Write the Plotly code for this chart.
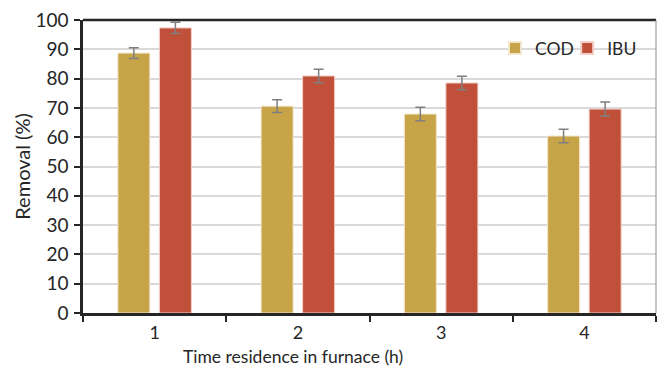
import plotly.graph_objects as go

categories = ["1", "2", "3", "4"]
cod = [88.7, 70.6, 67.9, 60.4]
ibu = [97.3, 80.9, 78.5, 69.6]
cod_err = [1.8, 2.2, 2.3, 2.3]
ibu_err = [1.9, 2.3, 2.3, 2.4]
x_title = "Time residence in furnace (h)"
y_title = "Removal (%)"

COD_COLOR = "#C8A449"
IBU_COLOR = "#C0503A"
ERR_COLOR = "#7F7F7F"
FONT = "Lato"

fig = go.Figure()
fig.add_trace(go.Bar(
    x=categories, y=cod, name="COD", legend="legend",
    marker=dict(color=COD_COLOR, line=dict(color="#F2E6CC", width=1)),
    error_y=dict(type="data", array=cod_err, color=ERR_COLOR, thickness=1.5, width=5),
))
fig.add_trace(go.Bar(
    x=categories, y=ibu, name="IBU", legend="legend2",
    marker=dict(color=IBU_COLOR, line=dict(color="#F2CFC8", width=1)),
    error_y=dict(type="data", array=ibu_err, color=ERR_COLOR, thickness=1.5, width=5),
))

legend_common = dict(orientation="h", y=0.904, xanchor="left", yanchor="middle",
                     font=dict(size=17.5), itemwidth=30,
                     bgcolor="rgba(0,0,0,0)", itemsizing="constant")

fig.update_layout(
    width=658, height=367,
    margin=dict(l=83, r=2, t=20, b=54),
    paper_bgcolor="white", plot_bgcolor="white",
    barmode="group", bargap=0.42, bargroupgap=0.23,
    font=dict(family=FONT, size=19, color="#262626"),
    showlegend=True,
    legend=dict(x=0.719, **legend_common),
    legend2=dict(x=0.845, **legend_common),
    xaxis=dict(
        type="category", tickson="boundaries", ticks="outside", ticklen=6,
        tickwidth=2, tickcolor="#262626",
        showline=True, linecolor="#262626", linewidth=2.5,
        showgrid=False, zeroline=False,
        tickfont=dict(size=18), ticklabelstandoff=2,
    ),
    yaxis=dict(
        range=[0, 100], dtick=10, ticks="outside", ticklen=6, tickwidth=2,
        tickcolor="#262626",
        showline=True, linecolor="#262626", linewidth=2.5,
        showgrid=True, gridcolor="#D9D9D9", gridwidth=1.5,
        zeroline=False, tickfont=dict(size=19), ticklabelstandoff=2,
        title=dict(text=y_title, font=dict(size=20), standoff=0),
    ),
    annotations=[
        dict(text=x_title, xref="paper", yref="paper", x=0.367, y=-0.149,
             xanchor="center", yanchor="middle", showarrow=False,
             font=dict(size=17.5), borderpad=0),
    ],
    shapes=[
        dict(type="line", xref="paper", yref="paper", x0=0, x1=1, y0=1, y1=1,
             line=dict(color="#262626", width=2.5)),
        dict(type="line", xref="paper", yref="paper", x0=1, x1=1, y0=0, y1=1,
             line=dict(color="#8C8C8C", width=1)),
    ],
)

fig.write_html("out.html")
